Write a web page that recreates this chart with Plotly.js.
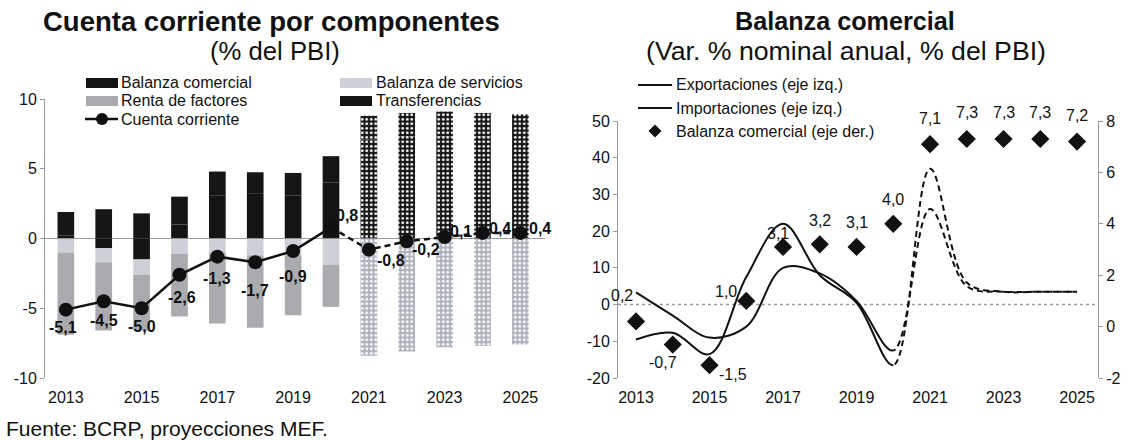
<!DOCTYPE html>
<html>
<head>
<meta charset="utf-8">
<script src="https://cdn.plot.ly/plotly-3.0.1.min.js"></script>
<style>html,body{margin:0;padding:0;background:#fff;}#chart{width:1130px;height:440px;}</style>
</head>
<body>
<div id="chart"></div>
<script>
// ---------- DATA ----------
const years = [2013,2014,2015,2016,2017,2018,2019,2020,2021,2022,2023,2024,2025];
const tickYears = [2013,2015,2017,2019,2021,2023,2025];
const firstForecastYear = 2021;   // bars drawn with a pattern from here
const dashFromYear = 2020;        // lines drawn dashed from here

// Left chart: current account by components (% of GDP)
const balanzaComercial = [0.2,-0.7,-1.5,1.0,3.1,3.2,3.1,4.0,7.1,7.3,7.3,7.3,7.2];
const balanzaServicios = [-1.0,-1.0,-1.1,-1.1,-1.0,-1.2,-1.2,-1.9,-1.3,-1.2,-1.2,-1.2,-1.2];
const rentaFactores    = [-5.9,-4.9,-4.0,-4.5,-5.1,-5.2,-4.3,-3.0,-7.1,-6.9,-6.6,-6.5,-6.4];
const transferencias   = [1.7,2.1,1.8,2.0,1.7,1.55,1.6,1.9,1.7,1.7,1.8,1.7,1.7];
const cuentaCorriente  = [-5.1,-4.5,-5.0,-2.6,-1.3,-1.7,-0.9,0.8,-0.8,-0.2,0.1,0.4,0.4];

// Right chart: nominal annual % change (left axis) and trade balance % of GDP (right axis)
const exportaciones = [-9.5,-7.7,-13.5,7.5,22,8,0.5,-16.5,37,6,3.5,3.5,3.5];
const importaciones = [3.3,-3,-9,-6,10,8.5,1.0,-12.5,26,5,3.5,3.5,3.5];
const balanzaPBI    = balanzaComercial;

// ---------- HELPERS ----------
const W = 1130, H = 440;
const px = x => x / W, py = y => 1 - y / H;
const fmt = v => v.toFixed(1).replace('.', ',');
const iDash = years.indexOf(dashFromYear);
const solidPart = a => a.slice(0, iDash + 1);
const dashPart  = a => a.slice(iDash);
const patt = years.map(y => y >= firstForecastYear ? '.' : '');

const FONT = 'Liberation Sans, Arial, sans-serif';
const NARROW = 'Liberation Sans Narrow, Liberation Sans, Arial, sans-serif';
const INK = '#111';

// right chart x geometry (pixels -> domain), used to split solid / dashed clipping areas
const R_X0 = 618, R_X1 = 1098, R_RANGE = [2012.51, 2025.57];
const splitFrac = (dashFromYear - R_RANGE[0]) / (R_RANGE[1] - R_RANGE[0]);
const R_SPLIT = R_X0 + splitFrac * (R_X1 - R_X0);

function barTrace(name, vals, color, patBg) {
  return {
    type: 'bar', name: name, x: years, y: vals, xaxis: 'x', yaxis: 'y',
    marker: {
      color: color, line: {width: 0},
      pattern: {shape: patt, bgcolor: patBg, fgcolor: '#ffffff', size: 4.5, solidity: 0.3}
    }
  };
}

const traces = [
  barTrace('Balanza comercial', balanzaComercial, '#141414', '#161616'),
  barTrace('Balanza de servicios', balanzaServicios, '#cdd0d6', '#aeb3be'),
  barTrace('Renta de factores', rentaFactores, '#a9abae', '#aeb3be'),
  barTrace('Transferencias', transferencias, '#161616', '#161616'),
  {
    type: 'scatter', mode: 'lines+markers', name: 'Cuenta corriente',
    x: solidPart(years), y: solidPart(cuentaCorriente), xaxis: 'x', yaxis: 'y',
    line: {color: INK, width: 2.5}, marker: {color: INK, size: 14}
  },
  {
    type: 'scatter', mode: 'lines+markers', name: 'Cuenta corriente (proy.)',
    x: dashPart(years), y: dashPart(cuentaCorriente), xaxis: 'x', yaxis: 'y',
    line: {color: INK, width: 2.5, dash: '6px,4px'}, marker: {color: INK, size: 14}
  },
  // Right chart: full series drawn twice, clipped to the observed (solid) and projected (dashed) areas
  {
    type: 'scatter', mode: 'lines', name: 'Exportaciones (eje izq.)',
    x: years, y: exportaciones, xaxis: 'x4', yaxis: 'y2',
    line: {color: INK, width: 2, shape: 'spline', smoothing: 1}
  },
  {
    type: 'scatter', mode: 'lines', name: 'Importaciones (eje izq.)',
    x: years, y: importaciones, xaxis: 'x4', yaxis: 'y2',
    line: {color: INK, width: 2, shape: 'spline', smoothing: 1}
  },
  {
    type: 'scatter', mode: 'lines', name: 'Exportaciones proy.',
    x: years, y: exportaciones, xaxis: 'x5', yaxis: 'y2',
    line: {color: INK, width: 2, dash: '6px,4px', shape: 'spline', smoothing: 1}
  },
  {
    type: 'scatter', mode: 'lines', name: 'Importaciones proy.',
    x: years, y: importaciones, xaxis: 'x5', yaxis: 'y2',
    line: {color: INK, width: 2, dash: '6px,4px', shape: 'spline', smoothing: 1}
  },
  {
    type: 'scatter', mode: 'markers', name: 'Balanza comercial (eje der.)',
    x: years, y: balanzaPBI, xaxis: 'x2', yaxis: 'y3',
    marker: {symbol: 'diamond', color: INK, size: 14}
  }
];

// label offsets (px) for the data labels — style only
const ccOff = [[-3,18],[0,19],[0,18],[3,23],[0,22],[0,28],[0,25],[16,-12],[22,11],[19,8],[16,-6],[17,-4],[20,-4]];
const bcOff = [[-14,-26],[-10,18],[23,9],[-20,-9],[-5,-13],[0,-24],[0,-24],[0,-24],[0,-26],[0,-26],[0,-26],[0,-26],[0,-26]];

const annotations = [];
years.forEach((yr, i) => {
  annotations.push({
    x: yr, y: cuentaCorriente[i], xref: 'x', yref: 'y', text: fmt(cuentaCorriente[i]),
    showarrow: false, xshift: ccOff[i][0], yshift: -ccOff[i][1],
    font: {family: NARROW, size: 16, color: INK, weight: 'bold'}
  });
  annotations.push({
    x: yr, y: balanzaPBI[i], xref: 'x2', yref: 'y3', text: fmt(balanzaPBI[i]),
    showarrow: false, xshift: bcOff[i][0], yshift: -bcOff[i][1],
    font: {family: FONT, size: 16, color: INK}
  });
});

function txt(text, x, y, size, anchor, bold) {
  return {text: bold ? '<b>' + text + '</b>' : text, x: px(x), y: py(y), xref: 'paper', yref: 'paper',
    xanchor: anchor || 'center', yanchor: 'middle', showarrow: false,
    font: {family: FONT, size: size, color: INK}};
}
annotations.push(
  txt('Cuenta corriente por componentes', 271, 21, 27.5, 'center', true),
  txt('(% del PBI)', 275, 51, 25.7, 'center'),
  txt('Balanza comercial', 845, 21, 25.2, 'center', true),
  txt('(Var. % nominal anual, % del PBI)', 846, 51, 26.7, 'center'),
  txt('Fuente: BCRP, proyecciones MEF.', 4, 428, 21, 'left'),
  // left legend
  txt('Balanza comercial', 119, 83, 16, 'left'),
  txt('Renta de factores', 119, 101, 16, 'left'),
  txt('Cuenta corriente', 119, 119, 16, 'left'),
  txt('Balanza de servicios', 374, 83, 16, 'left'),
  txt('Transferencias', 374, 101, 16, 'left'),
  // right legend
  txt('Exportaciones (eje izq.)', 674, 85, 16, 'left'),
  txt('Importaciones (eje izq.)', 674, 108, 16, 'left'),
  txt('Balanza comercial (eje der.)', 674, 131, 16, 'left')
);

function rect(x0, y0, x1, y1, color) {
  return {type: 'rect', xref: 'paper', yref: 'paper', x0: px(x0), x1: px(x1), y0: py(y1), y1: py(y0),
    fillcolor: color, line: {width: 0}};
}
function hline(x0, x1, y, w) {
  return {type: 'line', xref: 'paper', yref: 'paper', x0: px(x0), x1: px(x1), y0: py(y), y1: py(y),
    line: {color: INK, width: w}};
}
function diamond(cx, cy, r) {
  return {type: 'path', xref: 'paper', yref: 'paper', fillcolor: INK, line: {width: 0},
    path: `M${px(cx - r)},${py(cy)} L${px(cx)},${py(cy - r)} L${px(cx + r)},${py(cy)} L${px(cx)},${py(cy + r)} Z`};
}

const shapes = [
  {type: 'line', xref: 'x2 domain', yref: 'y2', x0: 0, x1: 1, y0: 0, y1: 0,
   line: {color: '#9a9a9a', width: 1.5, dash: 'dot'}, layer: 'below'},
  // left legend swatches
  rect(86, 78, 118, 88, '#141414'),
  rect(86, 96, 118, 106, '#a9abae'),
  hline(85, 118, 119, 2.5),
  {type: 'circle', xref: 'paper', yref: 'paper', x0: px(96), x1: px(108), y0: py(125), y1: py(113),
   fillcolor: INK, line: {width: 0}},
  rect(340, 78, 372, 88, '#cdd0d6'),
  rect(340, 96, 372, 106, '#141414'),
  // right legend swatches
  hline(638, 672, 85, 2),
  hline(638, 672, 108, 2),
  diamond(655, 131, 6.5)
];

const tickFont = {family: FONT, size: 16, color: INK};
const hy = v => String(v);
const axLine = {showline: true, linecolor: '#9a9a9a', linewidth: 1, ticks: 'outside', ticklen: 4, tickcolor: '#9a9a9a'};

const layout = {
  width: W, height: H,
  margin: {l: 0, r: 0, t: 0, b: 0},
  paper_bgcolor: '#fff', plot_bgcolor: 'rgba(0,0,0,0)',
  barmode: 'relative', bargap: 0.56,
  font: {family: FONT, color: INK},
  showlegend: false,
  xaxis: {
    domain: [px(45), px(545)], range: [2012.45, 2025.65], anchor: 'y',
    tickvals: tickYears, ticktext: tickYears.map(String), tickfont: tickFont,
    showgrid: false, zeroline: false, showline: false, ticks: '', ticklabelstandoff: 8
  },
  yaxis: Object.assign({
    domain: [py(378), py(99)], range: [-10, 10], anchor: 'x',
    tickvals: [-10,-5,0,5,10], ticktext: [-10,-5,0,5,10].map(hy), tickfont: tickFont,
    showgrid: false, zeroline: true, zerolinecolor: '#9a9a9a', zerolinewidth: 1.5
  }, axLine),
  xaxis2: {
    domain: [px(R_X0), px(R_X1)], range: R_RANGE, anchor: 'y2',
    tickvals: tickYears, ticktext: tickYears.map(String), tickfont: tickFont,
    showgrid: false, zeroline: false, showline: false, ticks: '', ticklabelstandoff: 8
  },
  xaxis4: {domain: [px(R_X0), px(R_SPLIT)], range: [R_RANGE[0], dashFromYear], anchor: 'y2', visible: false},
  xaxis5: {domain: [px(R_SPLIT), px(R_X1)], range: [dashFromYear, R_RANGE[1]], anchor: 'y2', visible: false},
  yaxis2: Object.assign({
    domain: [py(378), py(121)], range: [-20, 50], anchor: 'x2',
    tickvals: [-20,-10,0,10,20,30,40,50], ticktext: [-20,-10,0,10,20,30,40,50].map(hy), tickfont: tickFont,
    showgrid: false, zeroline: false
  }, axLine),
  yaxis3: Object.assign({
    overlaying: 'y2', side: 'right', anchor: 'x2', range: [-2, 8],
    tickvals: [-2,0,2,4,6,8], ticktext: [-2,0,2,4,6,8].map(hy), tickfont: tickFont,
    showgrid: false, zeroline: false
  }, axLine),
  shapes: shapes,
  annotations: annotations
};

Plotly.newPlot('chart', traces, layout, {displayModeBar: false, staticPlot: true});
</script>
</body>
</html>
